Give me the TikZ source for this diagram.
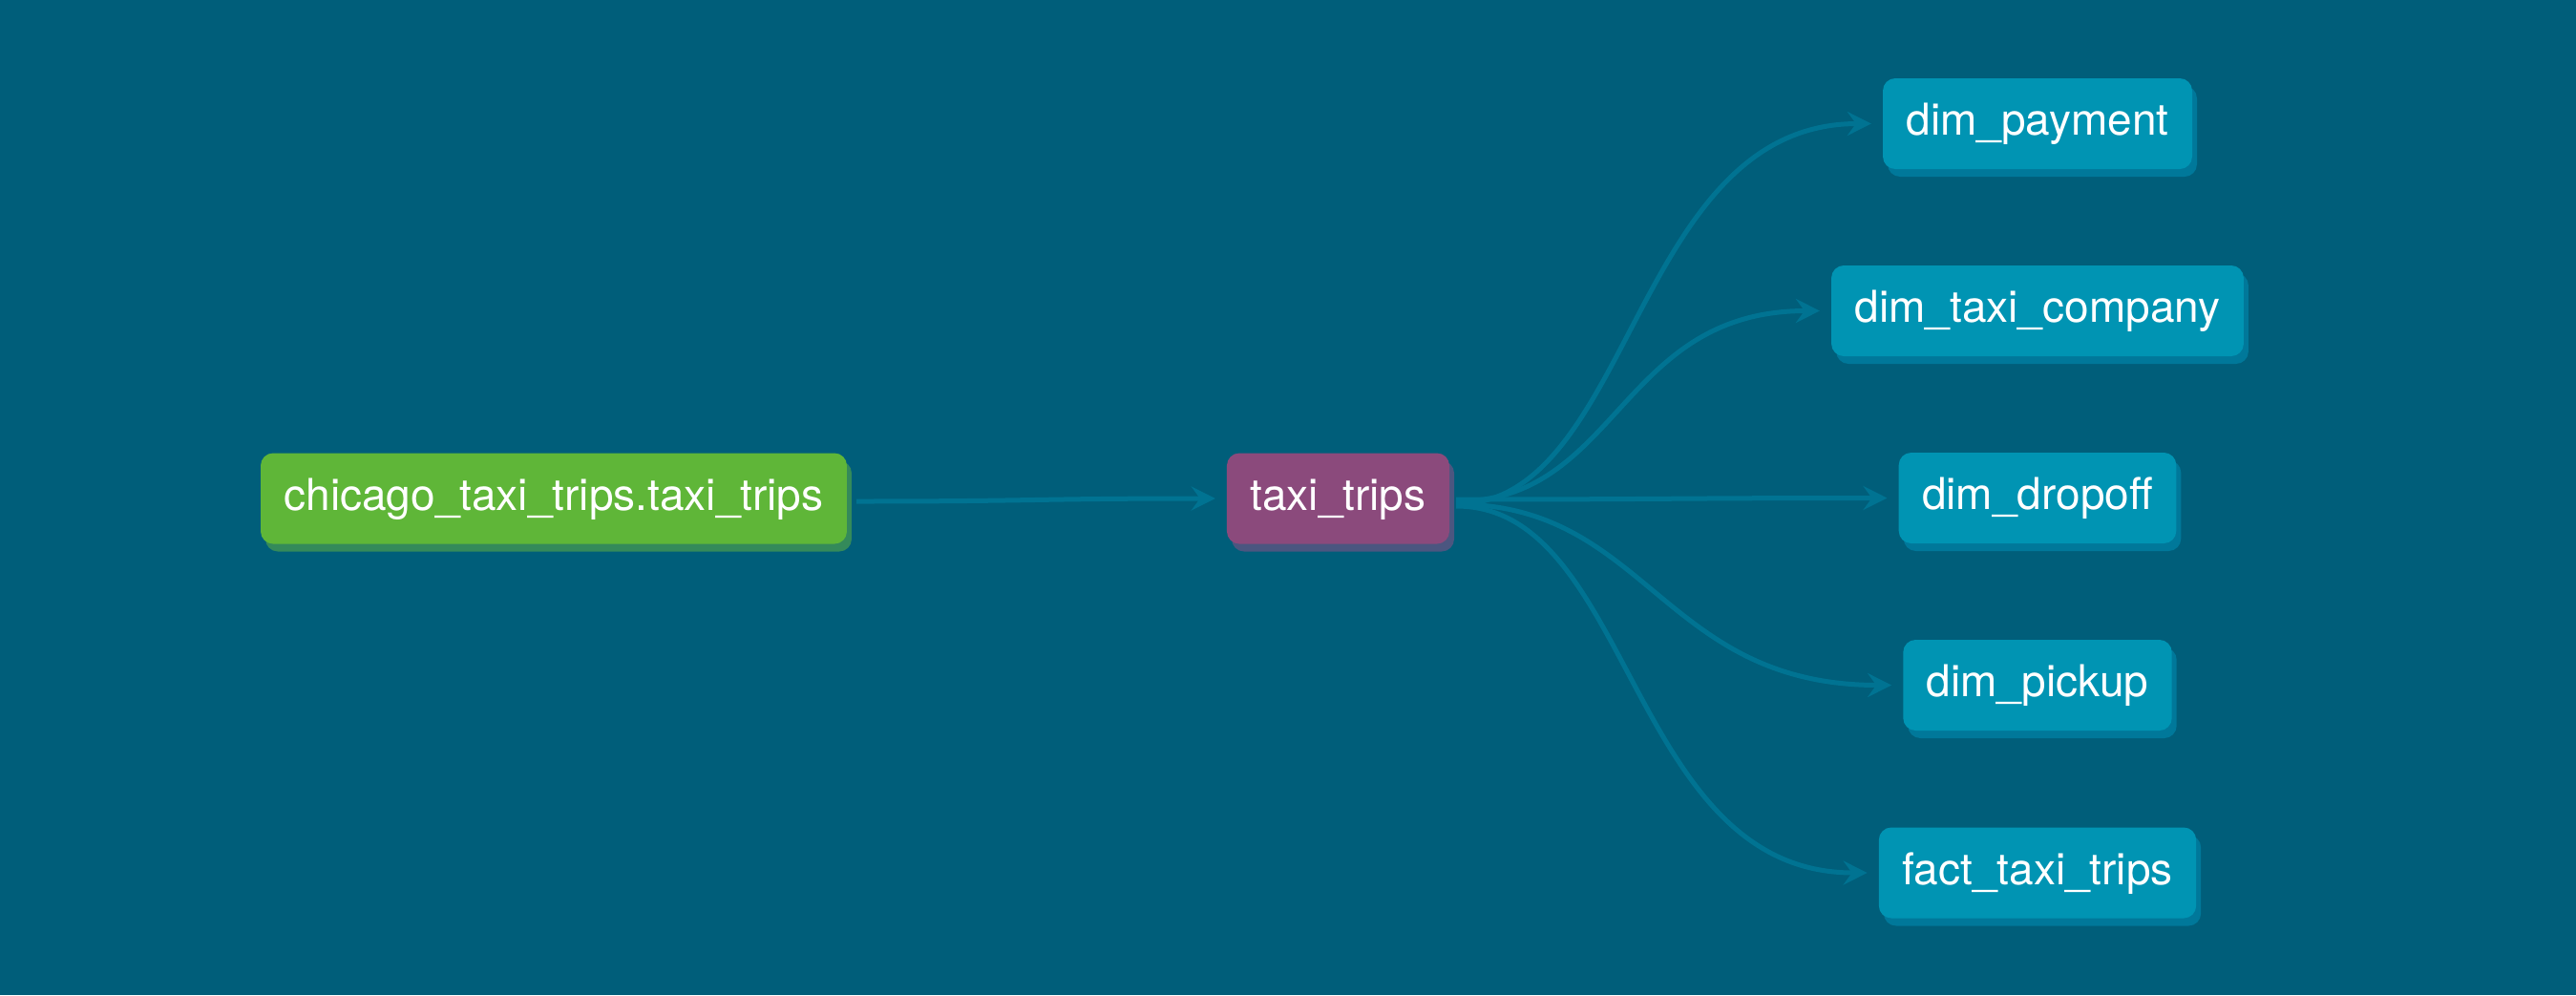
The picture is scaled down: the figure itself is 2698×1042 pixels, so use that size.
\documentclass[tikz,border=0pt]{standalone}
\usepackage{fontspec}
\setmainfont{TeX Gyre Heros}
\usetikzlibrary{arrows.meta,shadows}
\definecolor{bg}{HTML}{005E7A}
\definecolor{edgec}{HTML}{007392}
\definecolor{greenf}{HTML}{5FB638}
\definecolor{greens}{HTML}{348A5A}
\definecolor{purplef}{HTML}{8B4A7C}
\definecolor{purples}{HTML}{4B5680}
\definecolor{bluef}{HTML}{0094B3}
\definecolor{blues}{HTML}{00789A}
\tikzset{
  model/.style={rounded corners=13pt, minimum height=95pt, inner xsep=24.5pt,
    text height=24pt, text depth=0pt, text=white,
    font=\fontsize{46}{55}\selectfont},
  greenbox/.style={model, fill=greenf, drop shadow={shadow xshift=5pt, shadow yshift=-8pt, fill=greens, opacity=1}},
  purplebox/.style={model, fill=purplef, drop shadow={shadow xshift=5pt, shadow yshift=-8pt, fill=purples, opacity=1}},
  bluebox/.style={model, fill=bluef, drop shadow={shadow xshift=5pt, shadow yshift=-8pt, fill=blues, opacity=1}},
  edge/.style={draw=edgec, line width=5pt, -{Stealth[length=25pt,width=25pt,inset=9pt]}}
}
\begin{document}
\begin{tikzpicture}[x=1pt,y=1pt]
\fill[bg] (0,0) rectangle (2698,-1042);
\useasboundingbox (0,0) rectangle (2698,-1042);
\node[greenbox] (src) at (580,-522) {chicago\_taxi\_trips.taxi\_trips};
\node[purplebox] (taxi) at (1401.5,-522) {taxi\_trips};
\node[bluebox] (pay) at (2134,-129.5) {dim\_payment};
\node[bluebox] (comp) at (2134,-325.5) {dim\_taxi\_company};
\node[bluebox] (drop) at (2134,-521.5) {dim\_dropoff};
\node[bluebox] (pick) at (2134,-717.5) {dim\_pickup};
\node[bluebox] (fact) at (2134,-914) {fact\_taxi\_trips};

\draw[edge] ([xshift=10pt,yshift=-3pt]src.east) .. controls +(190,0) and +(-190,0) .. ([xshift=-12pt]taxi.west);
\draw[edge] ([xshift=7pt,yshift=-6pt]taxi.east) .. controls +(185,0) and +(-250,0) .. ([xshift=-12pt]pay.west);
\draw[edge] ([xshift=7pt,yshift=-3pt]taxi.east) .. controls +(170,0) and +(-210,0) .. ([xshift=-12pt]comp.west);
\draw[edge] ([xshift=7pt,yshift=-1pt]taxi.east) .. controls +(225,0) and +(-225,0) .. ([xshift=-12pt]drop.west);
\draw[edge] ([xshift=7pt,yshift=-6pt]taxi.east) .. controls +(200,0) and +(-240,0) .. ([xshift=-12pt]pick.west);
\draw[edge] ([xshift=7pt,yshift=-8pt]taxi.east) .. controls +(185,0) and +(-250,0) .. ([xshift=-12pt]fact.west);
\end{tikzpicture}
\end{document}
